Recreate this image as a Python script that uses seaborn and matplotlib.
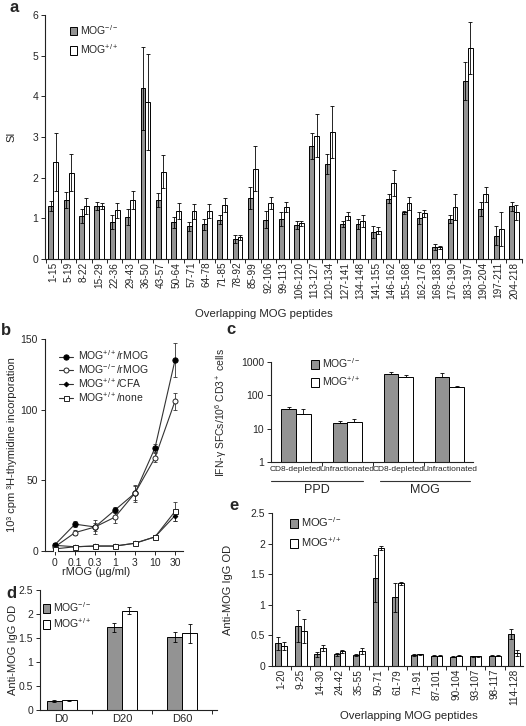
import numpy as np
import pandas as pd
import matplotlib
matplotlib.use("Agg")
import matplotlib.pyplot as plt
import seaborn as sns
from matplotlib.patches import Patch
from matplotlib.lines import Line2D

# --- panel a: T-cell proliferation (SI) to overlapping MOG peptides ---
peptides_a = ['1-15', '5-19', '8-22', '15-29', '22-36', '29-43', '36-50', '43-57',
              '50-64', '57-71', '64-78', '71-85', '78-92', '85-99', '92-106', '99-113',
              '106-120', '113-127', '120-134', '127-141', '134-148', '141-155',
              '146-162', '155-168', '162-176', '169-183', '176-190', '183-197',
              '190-204', '197-211', '204-218']
si_ko = [1.30, 1.45, 1.05, 1.30, 0.90, 1.03, 4.20, 1.45, 0.90, 0.80, 0.85, 0.97, 0.50,
         1.50, 0.97, 0.98, 0.84, 2.79, 2.33, 0.86, 0.86, 0.66, 1.48, 1.15, 1.00, 0.29,
         0.98, 4.38, 1.22, 0.57, 1.30]
si_ko_err = [0.13, 0.20, 0.17, 0.10, 0.17, 0.19, 1.02, 0.17, 0.14, 0.12, 0.14, 0.11, 0.10,
             0.27, 0.20, 0.17, 0.09, 0.32, 0.24, 0.07, 0.12, 0.14, 0.11, 0.04, 0.15, 0.07,
             0.09, 0.47, 0.17, 0.23, 0.11]
si_wt = [2.38, 2.12, 1.30, 1.30, 1.20, 1.45, 3.87, 2.15, 1.18, 1.17, 1.18, 1.33, 0.53,
         2.22, 1.37, 1.27, 0.88, 3.03, 3.13, 1.06, 0.93, 0.70, 1.88, 1.37, 1.12, 0.29,
         1.27, 5.18, 1.59, 0.74, 1.15]
si_wt_err = [0.72, 0.46, 0.20, 0.07, 0.18, 0.22, 1.18, 0.40, 0.20, 0.18, 0.17, 0.17, 0.07,
             0.55, 0.15, 0.12, 0.06, 0.53, 0.64, 0.09, 0.15, 0.08, 0.32, 0.16, 0.08, 0.04,
             0.32, 0.64, 0.19, 0.41, 0.18]

# --- panel b: proliferation vs rMOG dose ---
doses = ['0', '0.1', '0.3', '1', '3', '10', '30']
wt_rmog = [4.5, 19, 17, 29, 41, 73, 135]
wt_rmog_err = [1, 2, 3, 2, 5, 3, 12]
ko_rmog = [3, 13, 17, 24, 41, 66, 106]
ko_rmog_err = [1, 2, 5, 4, 6, 3, 6]
wt_cfa = [4, 3, 3.5, 3.5, 5.5, 10, 25]
wt_cfa_err = [0, 0, 0, 0, 0, 1, 4]
wt_none = [1.5, 3, 3.5, 3.5, 5.5, 10, 28]
wt_none_err = [0, 0, 0, 0, 0, 1, 7]

# --- panel c: IFN-gamma ELISPOT ---
cells_c = ['CD8-depleted', 'Unfractionated', 'CD8-depleted', 'Unfractionated']
keys_c = ['PPD CD8', 'PPD unfr', 'MOG CD8', 'MOG unfr']
ifn_ko = [38, 15, 430, 350]
ifn_ko_err = [6, 2, 60, 110]
ifn_wt = [27, 16, 350, 172]
ifn_wt_err = [12, 4, 60, 22]

# --- panel d: anti-MOG IgG over time ---
days = ['D0', 'D20', 'D60']
igg_ko = [0.19, 1.72, 1.52]
igg_ko_err = [0.02, 0.10, 0.10]
igg_wt = [0.20, 2.07, 1.60]
igg_wt_err = [0.01, 0.07, 0.20]

# --- panel e: anti-MOG IgG to peptides ---
peptides_e = ['1-20', '9-25', '14-30', '24-42', '35-55', '50-71', '61-79', '71-91',
              '87-101', '90-104', '93-107', '98-117', '114-128']
pep_ko = [0.37, 0.65, 0.19, 0.19, 0.18, 1.43, 1.12, 0.18, 0.17, 0.15, 0.16, 0.17, 0.52]
pep_ko_err = [0.11, 0.26, 0.04, 0.02, 0.02, 0.38, 0.24, 0.01, 0.01, 0.01, 0.01, 0.01, 0.08]
pep_wt = [0.33, 0.57, 0.30, 0.24, 0.24, 1.93, 1.35, 0.19, 0.17, 0.17, 0.16, 0.17, 0.21]
pep_wt_err = [0.07, 0.19, 0.05, 0.02, 0.05, 0.03, 0.03, 0.01, 0.01, 0.01, 0.01, 0.01, 0.05]

sns.set_theme(style="ticks")
plt.rcParams['font.family'] = ['Liberation Sans', 'DejaVu Sans']
plt.rcParams['mathtext.fontset'] = 'custom'
plt.rcParams['mathtext.rm'] = 'Liberation Sans'
plt.rcParams['mathtext.it'] = 'Liberation Sans:italic'
plt.rcParams['mathtext.default'] = 'regular'
plt.rcParams['axes.linewidth'] = 0.8
plt.rcParams['axes.edgecolor'] = '#222222'

KO = r'MOG$^{-/-}$'
WT = r'MOG$^{+/+}$'
GRAY = '#939393'
W, H = 526, 726

fig = plt.figure(figsize=(W / 100, H / 100), dpi=100)


def px_axes(x0, y0, x1, y1):
    return fig.add_axes([x0 / W, 1 - y1 / H, (x1 - x0) / W, (y1 - y0) / H])


def bar_panel(ax, cats, ko, ko_err, wt, wt_err, width, upper_only=False):
    df = pd.DataFrame({'cat': list(cats) * 2,
                       'val': list(ko) + list(wt),
                       'mouse': ['ko'] * len(cats) + ['wt'] * len(cats)})
    sns.barplot(data=df, x='cat', y='val', hue='mouse', order=list(cats),
                hue_order=['ko', 'wt'], palette={'ko': GRAY, 'wt': 'white'},
                edgecolor='black', linewidth=0.7, width=width, saturation=1,
                legend=False, ax=ax)
    bars = list(ax.containers[:2])
    for cont, errs in zip(bars, [ko_err, wt_err]):
        xs = [b.get_x() + b.get_width() / 2 for b in cont]
        hs = [b.get_height() for b in cont]
        yerr = [np.zeros(len(errs)), errs] if upper_only else errs
        ax.errorbar(xs, hs, yerr=yerr, fmt='none', ecolor='black',
                    elinewidth=0.6, capsize=1.5, capthick=0.6)
    n = len(cats)
    ax.set_xticks(np.arange(-0.5, n, 1), minor=True)
    ax.tick_params(axis='x', which='major', length=0)
    ax.tick_params(axis='x', which='minor', length=3, width=0.7)
    ax.set_xlabel('')
    ax.set_ylabel('')
    sns.despine(ax=ax)


def bar_legend(ax, x, y, spacing, fs=7.5):
    handles = [Patch(facecolor=GRAY, edgecolor='black', linewidth=0.7),
               Patch(facecolor='white', edgecolor='black', linewidth=0.7)]
    ax.legend(handles, [KO, WT], loc='upper left', bbox_to_anchor=(x, y),
              frameon=False, fontsize=fs, handlelength=0.7, handleheight=0.9,
              handletextpad=0.3, labelspacing=spacing, borderpad=0, borderaxespad=0)


tick_kw = dict(labelsize=7.5, length=3, width=0.7, pad=2)

# ---------------- a ----------------
ax_a = px_axes(45, 15, 522, 259)
bar_panel(ax_a, peptides_a, si_ko, si_ko_err, si_wt, si_wt_err, width=0.64)
ax_a.set_xlim(-0.54, 30.52)
ax_a.set_ylim(0, 6)
ax_a.set_yticks(range(7))
ax_a.set_yticklabels([str(v) for v in range(7)])
ax_a.set_xticks(range(len(peptides_a)))
ax_a.set_xticklabels(peptides_a, rotation=90)
ax_a.tick_params(axis='y', **tick_kw)
ax_a.tick_params(axis='x', labelsize=7.2, pad=2)
ax_a.set_ylabel('SI', fontsize=8)
ax_a.yaxis.set_label_coords(-0.059, 0.5)
ax_a.set_xlabel('Overlapping MOG peptides', fontsize=8.2)
ax_a.xaxis.set_label_coords(0.459, -0.205)
bar_legend(ax_a, 0.052, 0.968, 0.55)

# ---------------- b ----------------
ax_b = px_axes(45, 339, 183, 551)
pos = np.arange(len(doses))
series_b = [
    (wt_rmog, wt_rmog_err, dict(marker='o', ms=3.8, mfc='black', mec='black'), WT + '/rMOG'),
    (ko_rmog, ko_rmog_err, dict(marker='o', ms=3.6, mfc='white', mec='#222222'), KO + '/rMOG'),
    (wt_cfa, wt_cfa_err, dict(marker='D', ms=2.4, mfc='black', mec='black'), WT + '/CFA'),
    (wt_none, wt_none_err, dict(marker='s', ms=3.6, mfc='white', mec='#222222'), WT + '/none'),
]
handles_b = []
for vals, errs, mk, lab in series_b:
    sns.lineplot(x=pos, y=vals, color='#333333', lw=0.8, ax=ax_b, zorder=2)
    ax_b.errorbar(pos, vals, yerr=errs, fmt='none', ecolor='#333333',
                  elinewidth=0.6, capsize=1.5, capthick=0.6, zorder=2)
    ax_b.plot(pos, vals, ls='none', mew=0.7, zorder=3, **mk)
    handles_b.append(Line2D([], [], color='#333333', lw=0.8, mew=0.7, **mk))
ax_b.legend(handles_b, [s[3] for s in series_b], loc='upper left',
            bbox_to_anchor=(0.1, 0.955), frameon=False, fontsize=7.5,
            handlelength=1.4, handletextpad=0.4, labelspacing=0.0,
            borderpad=0, borderaxespad=0)
ax_b.set_xlim(-0.5, 6.4)
ax_b.set_ylim(0, 150)
ax_b.set_xticks(pos)
ax_b.set_xticklabels(doses)
ax_b.set_yticks([0, 50, 100, 150])
ax_b.set_yticklabels(['0', '50', '100', '150'])
ax_b.tick_params(**tick_kw)
ax_b.set_ylabel('10³ cpm ³H-thymidine incorporation', fontsize=8)
ax_b.yaxis.set_label_coords(-0.2, 0.5)
ax_b.set_xlabel('rMOG (µg/ml)', fontsize=8)
ax_b.xaxis.set_label_coords(0.37, -0.075)
sns.despine(ax=ax_b)

# ---------------- c ----------------
ax_c = px_axes(271, 362, 473, 462)
bar_panel(ax_c, keys_c, ifn_ko, ifn_ko_err, ifn_wt, ifn_wt_err, width=0.57, upper_only=True)
ax_c.set_yscale('log')
ax_c.set_ylim(1, 1000)
ax_c.set_xlim(-0.49, 3.46)
ax_c.set_yticks([1, 10, 100, 1000])
ax_c.set_yticklabels(['1', '10', '100', '1000'])
ax_c.yaxis.set_minor_locator(matplotlib.ticker.NullLocator())
ax_c.set_xticks(range(4))
ax_c.set_xticklabels(cells_c)
ax_c.tick_params(axis='y', **tick_kw)
ax_c.tick_params(axis='x', labelsize=6.0, pad=3)
ax_c.set_ylabel(r'IFN-γ SFCs/10$^6$ CD3$^+$ cells', fontsize=7.5)
ax_c.yaxis.set_label_coords(-0.208, 0.5)
trans = ax_c.get_xaxis_transform()
for (x0, x1), name in zip([(-0.49, 1.3), (1.65, 3.4)], ['PPD', 'MOG']):
    ax_c.plot([x0, x1], [-0.19, -0.19], color='#333333', lw=0.8,
              transform=trans, clip_on=False)
    ax_c.text((x0 + x1) / 2, -0.28, name, transform=trans, ha='center',
              va='center', fontsize=9)
bar_legend(ax_c, 0.2, 1.06, 0.45)

# ---------------- d ----------------
ax_d = px_axes(40, 590, 217, 710)
bar_panel(ax_d, days, igg_ko, igg_ko_err, igg_wt, igg_wt_err, width=0.5)
ax_d.set_xlim(-0.36, 2.58)
ax_d.set_ylim(0, 2.5)
ax_d.set_yticks([0, 0.5, 1, 1.5, 2, 2.5])
ax_d.set_yticklabels(['0', '0.5', '1', '1.5', '2', '2.5'])
ax_d.tick_params(axis='y', **tick_kw)
ax_d.tick_params(axis='x', labelsize=8, pad=3)
ax_d.set_ylabel('Anti-MOG IgG OD', fontsize=8)
ax_d.yaxis.set_label_coords(-0.124, 0.5)
bar_legend(ax_d, 0.017, 0.915, 0.25)

# ---------------- e ----------------
ax_e = px_axes(272, 513, 523, 666)
bar_panel(ax_e, peptides_e, pep_ko, pep_ko_err, pep_wt, pep_wt_err, width=0.6)
ax_e.set_xlim(-0.48, 12.45)
ax_e.set_ylim(0, 2.5)
ax_e.set_yticks([0, 0.5, 1, 1.5, 2, 2.5])
ax_e.set_yticklabels(['0', '0.5', '1', '1.5', '2', '2.5'])
ax_e.set_xticks(range(len(peptides_e)))
ax_e.set_xticklabels(peptides_e, rotation=90)
ax_e.tick_params(axis='y', **tick_kw)
ax_e.tick_params(axis='x', labelsize=7.2, pad=2)
ax_e.set_ylabel('Anti-MOG IgG OD', fontsize=8)
ax_e.yaxis.set_label_coords(-0.155, 0.5)
ax_e.set_xlabel('Overlapping MOG peptides', fontsize=8.2)
ax_e.xaxis.set_label_coords(0.546, -0.294)
bar_legend(ax_e, 0.072, 0.985, 0.55, fs=8)

# panel letters
for letter, (x, y) in zip('abcde', [(14, 8), (6, 330), (231, 329), (11, 593), (234, 506)]):
    fig.text(x / W, 1 - y / H, letter, ha='center', va='center',
             fontsize=12, fontweight='bold')

fig.savefig('out.png', dpi=100, facecolor='white')
